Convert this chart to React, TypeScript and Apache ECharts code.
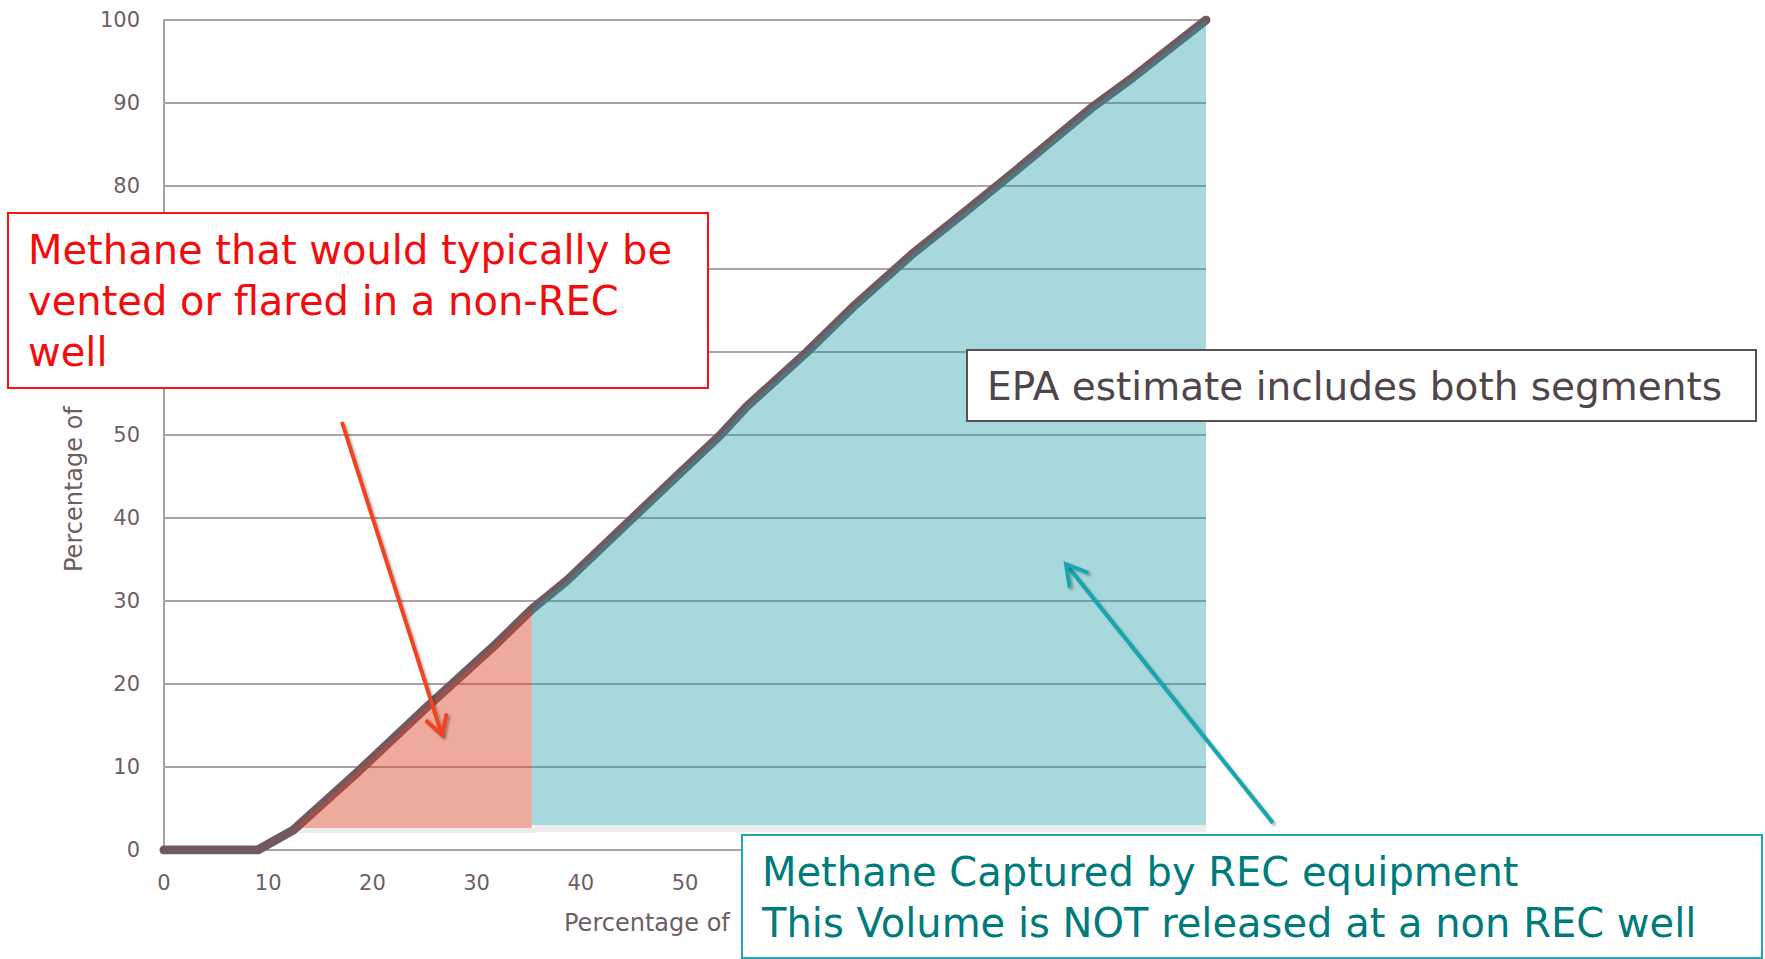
import React, { useEffect, useRef } from "react";
import * as echarts from "echarts";

// ---- data ----
const xLine = [0, 9, 12.4, 18.5, 25.2, 31.6, 35.3, 38.7, 44.4, 49.5, 53.4, 55.9, 61.7, 66.1, 71.9, 76.7, 81.5, 89.2, 93, 100];
const yLine = [0, 0, 2.4, 9.3, 17.2, 24.5, 29, 32.5, 39.3, 45.4, 50, 53.4, 60, 65.4, 71.9, 76.7, 81.6, 89.6, 93.1, 100];
const ventedStartX = 12.4;
const splitX = 35.3;
const ventedBase = 2.65;
const capturedBase = 3.0;
// tick labels visible in the reference (others are hidden behind the call-out boxes)
const xTicks = [0, 10, 20, 30, 40, 50];
const yTicks = [0, 10, 20, 30, 40, 50, 80, 90, 100];

const redLines = ["Methane that would typically be", "vented or flared in a non-REC", "well"];
const epaText = "EPA estimate includes both segments";
const tealLines = ["Methane Captured by REC equipment", "This Volume is NOT released at a non REC well"];
const axisTitle = "Percentage of";

const FONT = "DejaVu Sans";
const LABEL = "#6e5e64";

function arrow(x1: number, y1: number, x2: number, y2: number, color: string, len: number) {
  const dx = x2 - x1, dy = y2 - y1;
  const d = Math.hypot(dx, dy);
  const bx = -dx / d, by = -dy / d;
  const rot = (a: number) => [bx * Math.cos(a) - by * Math.sin(a), bx * Math.sin(a) + by * Math.cos(a)];
  const a1 = rot(Math.PI / 6), a2 = rot(-Math.PI / 6);
  const shadow = { shadowBlur: 2, shadowColor: "rgba(0,0,0,0.3)", shadowOffsetX: 2, shadowOffsetY: 2 };
  return [
    { type: "line", z: 110, shape: { x1, y1, x2, y2 }, style: { stroke: color, lineWidth: 4, ...shadow } },
    {
      type: "polyline", z: 110,
      shape: { points: [[x2 + a1[0] * len, y2 + a1[1] * len], [x2, y2], [x2 + a2[0] * len, y2 + a2[1] * len]] },
      style: { stroke: color, lineWidth: 4, fill: null, lineJoin: "miter", ...shadow },
    },
  ];
}

export default function App() {
  const ref = useRef<HTMLDivElement>(null);
  useEffect(() => {
    const chart = echarts.init(ref.current!, null, { renderer: "svg" });
    const linePts = xLine.map((x, i) => [x, yLine[i]]);
    const vented = linePts.filter(([x]) => x >= ventedStartX && x <= splitX);
    const captured = linePts.filter(([x]) => x >= splitX);

    const option: any = {
      animation: false,
      backgroundColor: "#ffffff",
      grid: { left: 164, right: 559, top: 20, bottom: 109, containLabel: false },
      xAxis: {
        type: "value", min: 0, max: 100, interval: 10,
        axisLine: { show: true, lineStyle: { color: "#a9a3a5", width: 2 } },
        axisTick: { show: false },
        splitLine: { show: false },
        axisLabel: { color: LABEL, fontFamily: FONT, fontSize: 21, margin: 22,
          formatter: (v: number) => (xTicks.includes(v) ? String(v) : "") },
      },
      yAxis: {
        type: "value", min: 0, max: 100, interval: 10,
        axisLine: { show: true, lineStyle: { color: "#a9a3a5", width: 2 } },
        axisTick: { show: false },
        splitLine: { show: true, lineStyle: { color: "#a9a3a5", width: 2 } },
        axisLabel: { color: LABEL, fontFamily: FONT, fontSize: 21, margin: 24,
          formatter: (v: number) => (yTicks.includes(v) ? String(v) : "") },
      },
      series: [
        {
          type: "line", z: 1, showSymbol: false, silent: true,
          data: [[ventedStartX, ventedBase], [splitX + 0.3, ventedBase]],
          lineStyle: { width: 0 },
          areaStyle: { color: "#ebebeb", opacity: 1, origin: ventedBase - 0.6 },
        },
        {
          type: "line", z: 1, showSymbol: false, silent: true,
          data: [[splitX + 0.3, capturedBase], [100.2, capturedBase]],
          lineStyle: { width: 0 },
          areaStyle: { color: "#ebebeb", opacity: 1, origin: capturedBase - 0.8 },
        },
        {
          type: "line", z: 2, showSymbol: false, silent: true,
          data: linePts,
          lineStyle: { color: "#705a60", width: 9, cap: "round", join: "round" },
        },
        {
          type: "line", z: 3, showSymbol: false, silent: true,
          data: vented,
          lineStyle: { width: 0 },
          areaStyle: { color: "rgba(218,70,42,0.46)", opacity: 1, origin: ventedBase },
        },
        {
          type: "line", z: 3, showSymbol: false, silent: true,
          data: captured,
          lineStyle: { width: 0 },
          areaStyle: { color: "rgba(35,157,167,0.4)", opacity: 1, origin: capturedBase },
        },
      ],
      graphic: [
        { type: "text", z: 100, x: 564, y: 923,
          style: { text: axisTitle, fill: LABEL, font: `24px "${FONT}"`, textAlign: "left", textVerticalAlign: "middle" } },
        { type: "text", z: 100, x: 74, y: 572, rotation: Math.PI / 2,
          style: { text: axisTitle, fill: LABEL, font: `24px "${FONT}"`, textAlign: "left", textVerticalAlign: "middle" } },
        { type: "rect", z: 100, shape: { x: 8, y: 213, width: 700, height: 175 },
          style: { fill: "#ffffff", stroke: "#ff1010", lineWidth: 2 } },
        ...redLines.map((t, i) => ({ type: "text", z: 101, x: 28, y: 250 + i * 51,
          style: { text: t, fill: "#f20d0d", font: `40px "${FONT}"`, textAlign: "left", textVerticalAlign: "middle" } })),
        { type: "rect", z: 100, shape: { x: 967, y: 350, width: 789, height: 71 },
          style: { fill: "#ffffff", stroke: "#5a5052", lineWidth: 2 } },
        { type: "text", z: 101, x: 987, y: 386,
          style: { text: epaText, fill: "#504649", font: `39px "${FONT}"`, textAlign: "left", textVerticalAlign: "middle" } },
        { type: "rect", z: 100, shape: { x: 742, y: 835, width: 1020, height: 123 },
          style: { fill: "#ffffff", stroke: "#22a8b0", lineWidth: 2 } },
        ...tealLines.map((t, i) => ({ type: "text", z: 101, x: 762, y: 872 + i * 51,
          style: { text: t, fill: "#007b7b", font: `40px "${FONT}"`, textAlign: "left", textVerticalAlign: "middle" } })),
        ...arrow(342, 422, 442, 735, "#f24322", 22),
        ...arrow(1273, 823, 1066, 564, "#15a6b0", 24),
      ],
    };
    chart.setOption(option);
    return () => chart.dispose();
  }, []);
  return <div ref={ref} style={{ position: "absolute", left: 0, top: 0, width: 1765, height: 959 }} />;
}
